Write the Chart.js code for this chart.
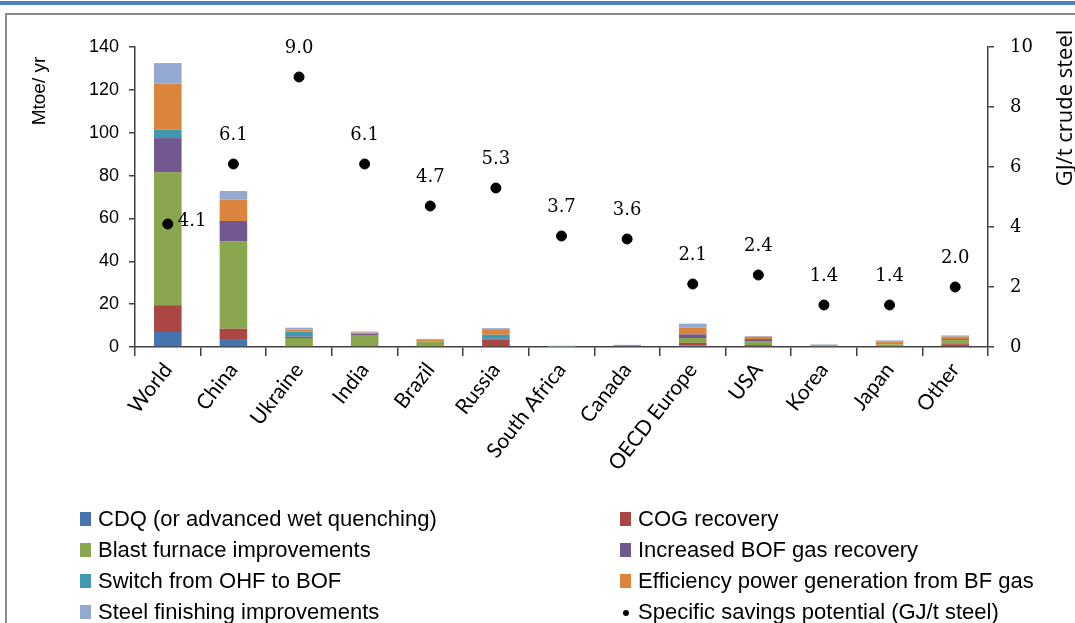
<!DOCTYPE html>
<html>
<head>
<meta charset="utf-8">
<script src="https://cdn.jsdelivr.net/npm/chart.js@4/dist/chart.umd.min.js"></script>
<style>
  body { margin: 0; background: #fff; }
  #wrap { position: relative; width: 1075px; height: 623px; overflow: hidden; }
  #topbar { position: absolute; left: 0; top: 1px; width: 1075px; height: 4px; background: #4F81BD; }
  #frame { position: absolute; left: 5px; top: 13px; width: 1080px; height: 640px; border-left: 2px solid #8c8c8c; border-top: 2px solid #8c8c8c; }
  #chart { position: absolute; left: 0; top: 0; }
  .leg { position: absolute; font-family: "Liberation Sans", sans-serif; font-size: 22px; color: #000; white-space: nowrap; line-height: 22px; }
  .leg .box { position: absolute; left: 0; top: 4px; width: 11px; height: 14px; }
  .leg .dot { position: absolute; left: 3px; top: 9px; width: 6px; height: 6px; border-radius: 50%; background: #000; }
  .leg span.t { position: absolute; left: 18px; top: 0; }
</style>
</head>
<body>
<div id="wrap">
  <div id="topbar"></div>
  <div id="frame"></div>
  <canvas id="chart" width="1075" height="623"></canvas>
  <div id="legend"></div>
</div>
<script>
const categories = ['World', 'China', 'Ukraine', 'India', 'Brazil', 'Russia', 'South Africa', 'Canada', 'OECD Europe', 'USA', 'Korea', 'Japan', 'Other'];

// Mtoe/yr
const cdq       = [7.0, 3.7, 0, 0, 0, 0.3, 0, 0, 0.8, 0.3, 0, 0, 0.3];
const cog       = [12.5, 4.8, 0, 0.4, 0, 3.3, 0, 0, 1.1, 0.6, 0, 0, 1.0];
const blastFurn = [62.0, 40.8, 4.2, 5.2, 2.6, 0, 0.2, 0, 2.3, 1.6, 0.8, 1.2, 1.9];
const bofGas    = [16.0, 9.5, 0.7, 0.6, 0, 0.2, 0, 0.7, 1.7, 1.2, 0, 0, 0.5];
const ohfToBof  = [4.0, 0, 2.3, 0, 0, 1.9, 0, 0, 0, 0, 0, 0, 0];
const powerGen  = [21.5, 10.0, 1.0, 0.5, 0.8, 2.6, 0, 0, 3.1, 1.1, 0, 1.4, 1.1];
const finishing = [9.5, 4.0, 0.8, 0.5, 0.4, 0.5, 0.4, 0.3, 1.9, 0.3, 0.4, 0.5, 0.6];

// GJ/t crude steel
const savings = [4.1, 6.1, 9.0, 6.1, 4.7, 5.3, 3.7, 3.6, 2.1, 2.4, 1.4, 1.4, 2.0];

const leftTicks = [0, 20, 40, 60, 80, 100, 120, 140];
const rightTicks = [0, 2, 4, 6, 8, 10];

const series = [
  { label: 'CDQ (or advanced wet quenching)', data: cdq, color: '#4674AE' },
  { label: 'COG recovery', data: cog, color: '#AA4643' },
  { label: 'Blast furnace improvements', data: blastFurn, color: '#89A54E' },
  { label: 'Increased BOF gas recovery', data: bofGas, color: '#71588F' },
  { label: 'Switch from OHF to BOF', data: ohfToBof, color: '#4198AF' },
  { label: 'Efficiency power generation  from BF gas', data: powerGen, color: '#DB843D' },
  { label: 'Steel finishing improvements', data: finishing, color: '#93A9CF' }
];
const pointLabel = 'Specific savings potential (GJ/t steel)';

const axisColor = '#404040';
const serif = '"DejaVu Serif", serif';

const datasets = series.map(s => ({
  type: 'bar',
  label: s.label,
  data: s.data,
  backgroundColor: s.color,
  borderWidth: 0,
  yAxisID: 'y',
  barPercentage: 0.42,
  categoryPercentage: 1,
  order: 2
}));
datasets.push({
  type: 'line',
  label: pointLabel,
  data: savings,
  showLine: false,
  pointRadius: 5,
  pointHoverRadius: 5,
  pointBackgroundColor: '#000',
  pointBorderColor: '#000',
  yAxisID: 'y1',
  order: 1
});

// value labels above the dots, and the two axis titles placed like the original
const extras = {
  id: 'extras',
  afterDatasetsDraw(chart) {
    const ctx = chart.ctx;
    const meta = chart.getDatasetMeta(chart.data.datasets.length - 1);
    ctx.save();
    ctx.fillStyle = '#000';
    ctx.font = '18px ' + serif;
    ctx.textBaseline = 'middle';
    meta.data.forEach((pt, i) => {
      const txt = savings[i].toFixed(1);
      if (i === 0) {
        ctx.textAlign = 'left';
        ctx.fillText(txt, pt.x + 10, pt.y - 3);
      } else {
        ctx.textAlign = 'center';
        ctx.fillText(txt, pt.x, pt.y - 29);
      }
    });
    ctx.font = '19px "Liberation Sans", sans-serif';
    ctx.textAlign = 'center';
    ctx.save();
    ctx.translate(40, 91);
    ctx.rotate(-Math.PI / 2);
    ctx.fillText('Mtoe/ yr', 0, 0);
    ctx.restore();
    ctx.save();
    ctx.beginPath();
    ctx.rect(0, 15, 1075, 608);
    ctx.clip();
    ctx.translate(1066, 108);
    ctx.rotate(-Math.PI / 2);
    ctx.font = '22px "Open Sans", sans-serif';
    ctx.fillText('GJ/t crude steel', 0, 0);
    ctx.restore();
    ctx.restore();
  }
};

new Chart(document.getElementById('chart'), {
  data: { labels: categories, datasets: datasets },
  options: {
    responsive: false,
    animation: false,
    layout: { padding: { top: 47, left: 0, right: 0, bottom: 0 } },
    plugins: { legend: { display: false }, tooltip: { enabled: false } },
    scales: {
      x: {
        stacked: true,
        offset: true,
        grid: { offset: true, drawOnChartArea: false, color: axisColor, tickLength: 9, lineWidth: 1.5 },
        border: { color: axisColor, width: 1.5 },
        ticks: {
          color: '#000',
          font: { family: 'Lato, "Open Sans", sans-serif', size: 21 },
          minRotation: 52,
          maxRotation: 52,
          autoSkip: false,
          padding: 2
        },
        afterFit(scale) { scale.height = 623 - 347; }
      },
      y: {
        position: 'left',
        stacked: true,
        min: 0,
        max: 140,
        afterBuildTicks(scale) { scale.ticks = leftTicks.map(v => ({ value: v })); },
        grid: { drawOnChartArea: false, color: axisColor, tickLength: 6, lineWidth: 1.5 },
        border: { color: axisColor, width: 1.5 },
        ticks: { color: '#000', font: { family: '"Liberation Sans", sans-serif', size: 18 }, padding: 10 },
        afterFit(scale) { scale.width = 135; }
      },
      y1: {
        position: 'right',
        stacked: false,
        min: 0,
        max: 10,
        afterBuildTicks(scale) { scale.ticks = rightTicks.map(v => ({ value: v })); },
        grid: { drawOnChartArea: false, color: axisColor, tickLength: 6, lineWidth: 1.5 },
        border: { color: axisColor, width: 1.5 },
        ticks: { color: '#000', font: { family: serif, size: 18 }, padding: 16 },
        afterFit(scale) { scale.width = 1075 - 988; }
      }
    }
  },
  plugins: [extras]
});

// two-column legend under the plot
const legend = document.getElementById('legend');
const items = series.map(s => ({ label: s.label, color: s.color })).concat([{ label: pointLabel, dot: true }]);
items.forEach((it, i) => {
  const col = i % 2, row = Math.floor(i / 2);
  const el = document.createElement('div');
  el.className = 'leg';
  el.style.left = (col === 0 ? 80 : 620) + 'px';
  el.style.top = (508 + row * 31) + 'px';
  el.innerHTML = (it.dot ? '<div class="dot"></div>' : '<div class="box" style="background:' + it.color + '"></div>') +
    '<span class="t">' + it.label + '</span>';
  legend.appendChild(el);
});
</script>
</body>
</html>
